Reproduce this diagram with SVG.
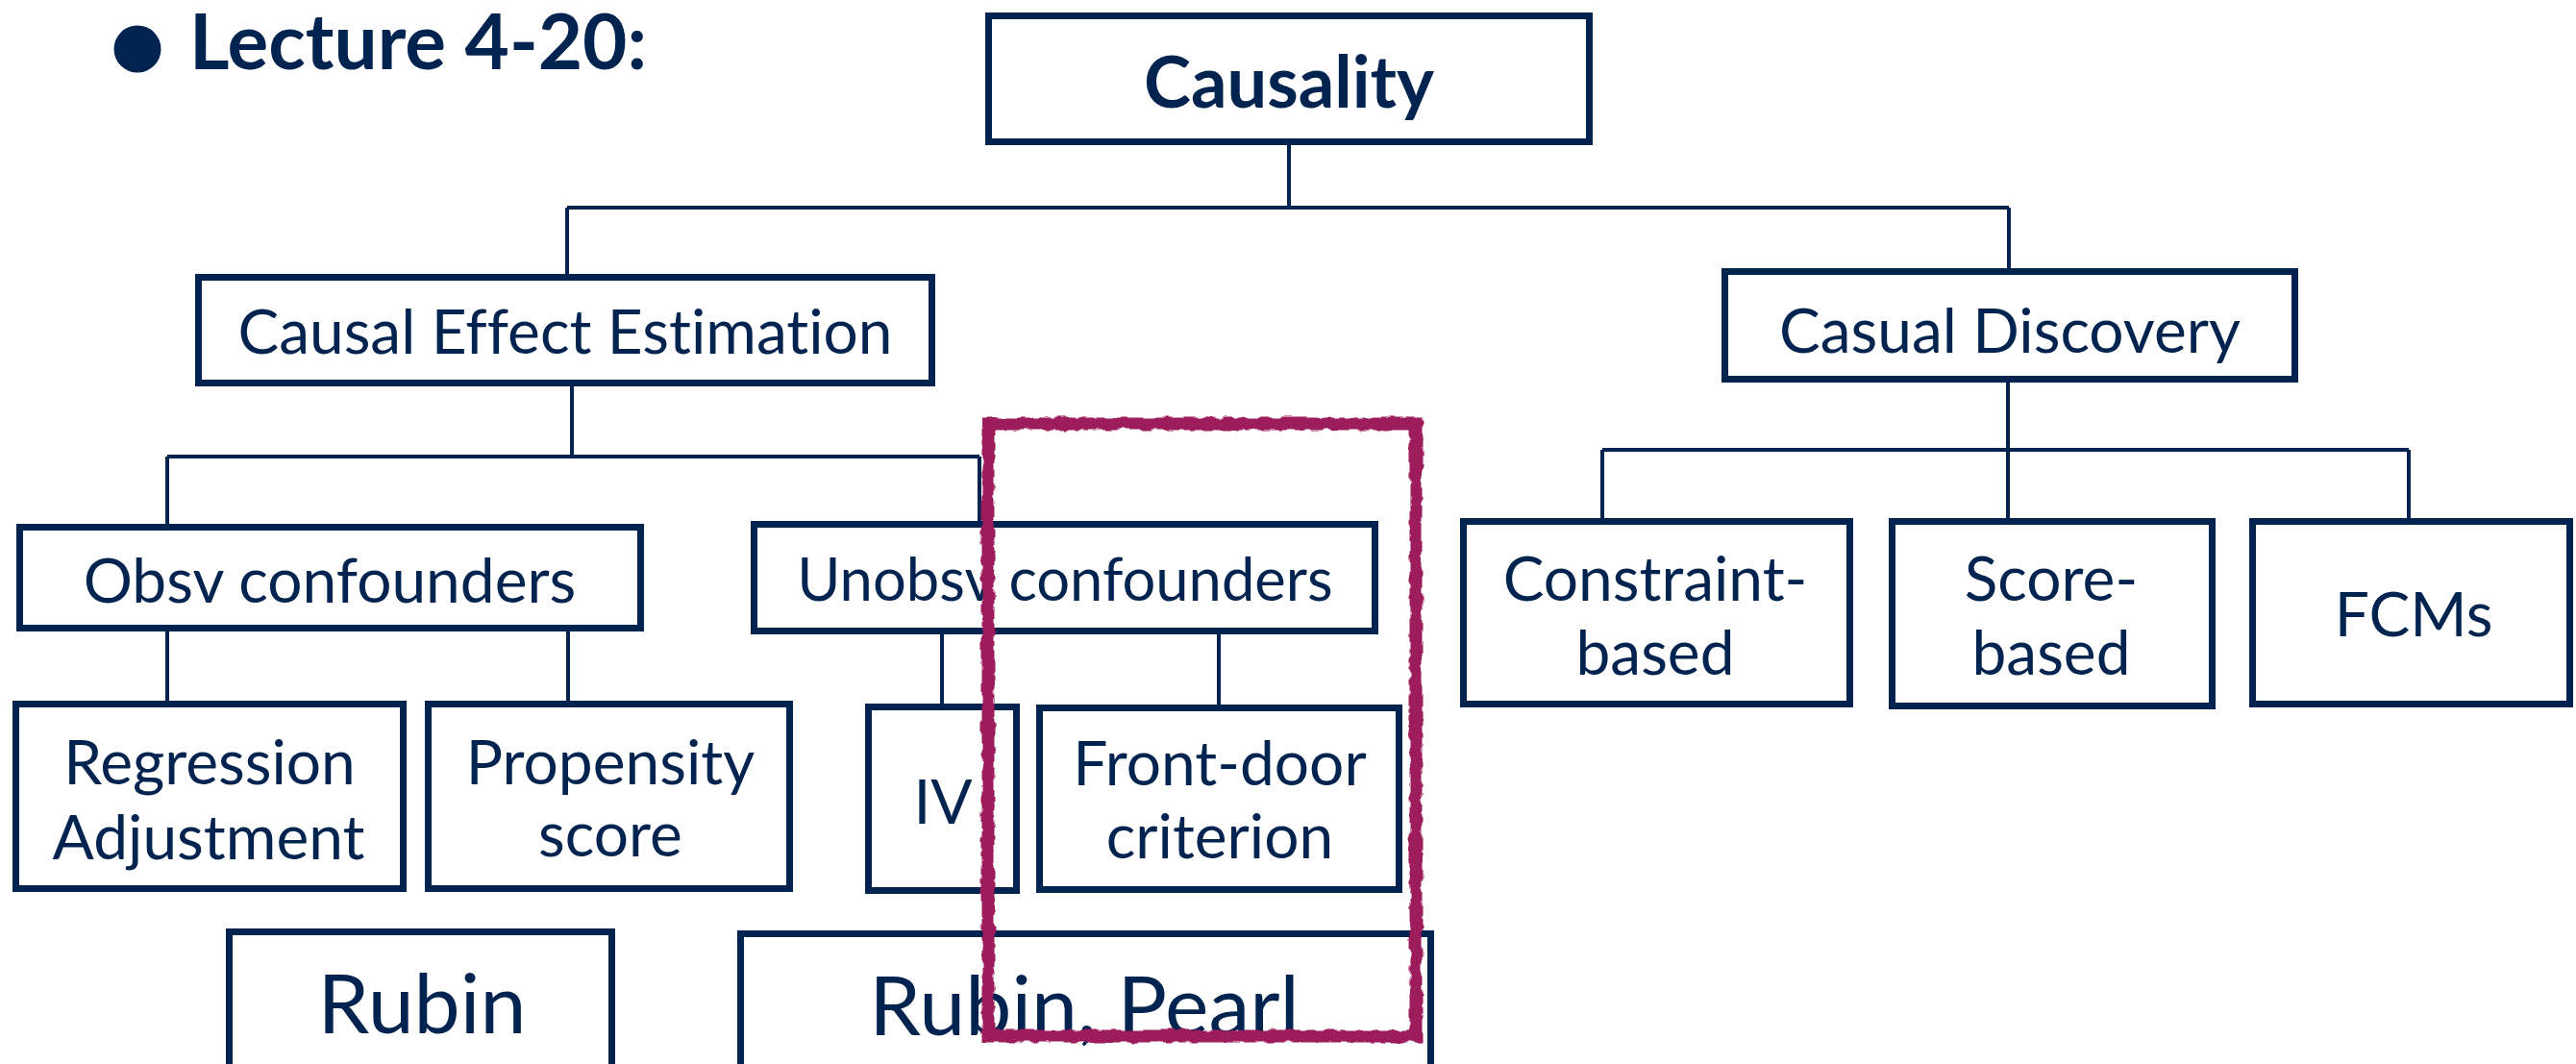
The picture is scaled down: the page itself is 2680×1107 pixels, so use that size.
<svg xmlns="http://www.w3.org/2000/svg" width="2680" height="1107" viewBox="0 0 2680 1107">
<defs>
<style>
.box{fill:#fff;stroke:#00244f;stroke-width:7}
.con{fill:none;stroke:#00244f;stroke-width:4}
.t{font-family:Lato,"Liberation Sans",sans-serif;font-size:64px;fill:#00244f;text-anchor:middle;font-variant-ligatures:none}
.big{font-size:86px}
.b{font-weight:bold}
</style>
<filter id="rough" x="-5%" y="-5%" width="110%" height="110%">
<feTurbulence type="fractalNoise" baseFrequency="0.08" numOctaves="2" seed="3" result="n"/>
<feDisplacementMap in="SourceGraphic" in2="n" scale="7" xChannelSelector="R" yChannelSelector="G"/>
</filter>
</defs>
<rect width="2680" height="1107" fill="#fff"/>
<g id="header">
<circle cx="143" cy="51" r="24.5" fill="#00244f"/>
<text class="t b" x="197" y="72" style="font-size:80px;text-anchor:start">Lecture 4-20:</text>
</g>
<g id="connectors">
<path class="con" d="M1341 151V216M590 216H2090M590 216V285M2090 216V279"/>
<path class="con" d="M595 402V475M174 475H1019M174 475V545M1019 475V542"/>
<path class="con" d="M174 657V729M591 657V729M980 660V732M1268 660V733"/>
<path class="con" d="M2089 398V468M1667 468H2506M1667 468V539M2089 468V539M2506 468V539"/>
</g>
<g id="causality"><rect class="box" x="1028.5" y="16.5" width="625" height="131"/><text class="t b" x="1341" y="112" style="font-size:74px">Causality</text></g>
<g id="cee"><rect class="box" x="206.5" y="288.5" width="763" height="110"/><text class="t" x="588" y="368">Causal Effect Estimation</text></g>
<g id="cd"><rect class="box" x="1794.5" y="282.5" width="593" height="112"/><text class="t" x="2091" y="367">Casual Discovery</text></g>
<g id="obsv"><rect class="box" x="20.5" y="548.5" width="646" height="105"/><text class="t" x="343" y="627">Obsv confounders</text></g>
<g id="unobsv"><rect class="box" x="784.5" y="545.5" width="646" height="111"/><text class="t" x="1108" y="625" style="font-size:61.5px">Unobsv confounders</text></g>
<g id="constraint"><rect class="box" x="1522.5" y="542.5" width="402" height="190"/><text class="t" x="1722" y="625">Constraint-</text><text class="t" x="1722" y="702">based</text></g>
<g id="score"><rect class="box" x="1968.5" y="542.5" width="333" height="192"/><text class="t" x="2134" y="625">Score-</text><text class="t" x="2134" y="702">based</text></g>
<g id="fcms"><rect class="box" x="2343.5" y="542.5" width="330" height="190"/><text class="t" x="2511" y="662">FCMs</text></g>
<g id="regression"><rect class="box" x="16.5" y="732.5" width="403" height="192"/><text class="t" x="218" y="816">Regression</text><text class="t" x="217" y="894">Adjustment</text></g>
<g id="propensity"><rect class="box" x="445.5" y="732.5" width="376" height="192"/><text class="t" x="635" y="816">Propensity</text><text class="t" x="635" y="891">score</text></g>
<g id="iv"><rect class="box" x="903.5" y="735.5" width="154" height="191"/><text class="t" x="981" y="857">IV</text></g>
<g id="frontdoor"><rect class="box" x="1081.5" y="736.5" width="374" height="189"/><text class="t" x="1269" y="817">Front-door</text><text class="t" x="1269" y="893">criterion</text></g>
<g id="rubin"><rect class="box" x="238.5" y="969.5" width="398" height="150"/><text class="t big" x="439" y="1075">Rubin</text></g>
<g id="rubinpearl"><rect class="box" x="770.5" y="971.5" width="718" height="150"/><text class="t big" x="1128" y="1077">Rubin, Pearl</text></g>
<g id="highlight"><rect x="1028" y="441" width="445" height="637" fill="none" stroke="#9c1a5b" stroke-width="13" filter="url(#rough)"/></g>
</svg>
